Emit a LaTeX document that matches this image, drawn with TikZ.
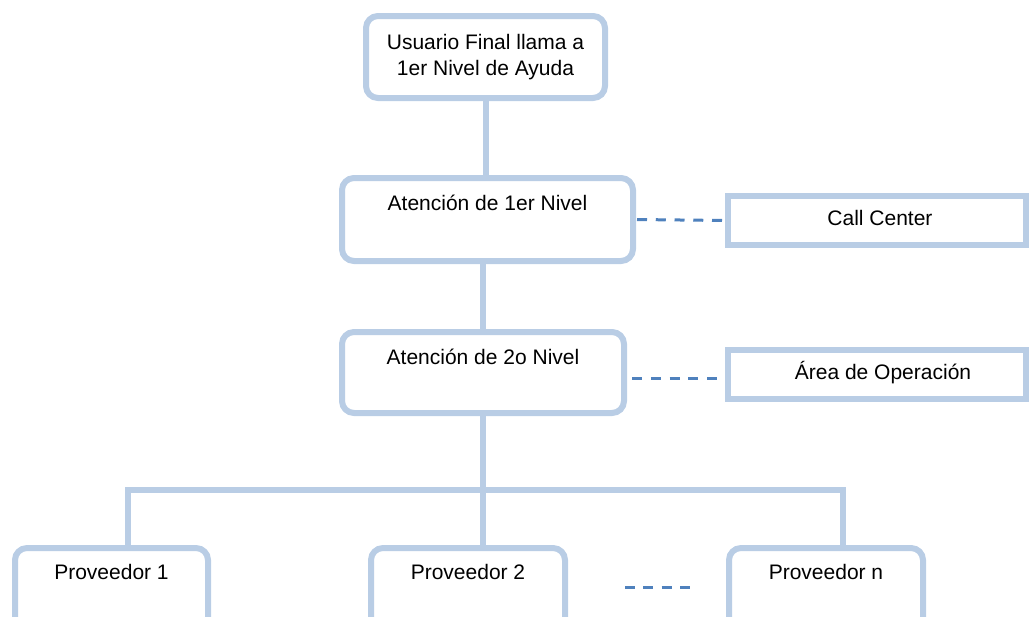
\documentclass[tikz,border=0pt]{standalone}
\usepackage{fontspec}
\setmainfont{Liberation Sans}
\definecolor{boxblue}{HTML}{B9CDE5}
\definecolor{dashblue}{HTML}{4F81BD}
\begin{document}
\begin{tikzpicture}[x=1pt,y=-1pt,
  txt/.style={font=\fontsize{21}{26}\selectfont, text=black},
  roundbox/.style={draw=boxblue, line width=6pt, rounded corners=12pt, fill=white, inner sep=0pt, txt},
  sidebox/.style={draw=boxblue, line width=6pt, fill=white, inner sep=0pt, txt},
  lbl/.style={txt, inner sep=0pt},
  conn/.style={draw=boxblue, line width=6pt},
  dashline/.style={draw=dashblue, line width=3pt, dash pattern=on 10pt off 8.75pt},
  shortdash/.style={draw=dashblue, line width=3pt, dash pattern=on 10pt off 8.33pt}]
\useasboundingbox (0,0) rectangle (1030,616);
\clip (0,0) rectangle (1030,616);

% main chain
\node[roundbox, minimum width=239pt, minimum height=82pt, align=center] (user) at (485.5,57)
  {Usuario Final llama a\\1er Nivel de Ayuda};
\node[roundbox, minimum width=291pt, minimum height=83pt] (lvl1) at (487.5,219.5) {};
\node[lbl] (lvl1t) at (487.5,203) {Atención de 1er Nivel};
\node[roundbox, minimum width=282pt, minimum height=81pt] (lvl2) at (483,372.5) {};
\node[lbl] (lvl2t) at (483,357) {Atención de 2o Nivel};

% side boxes
\node[sidebox, minimum width=298pt, minimum height=49pt] (call) at (877,220.5) {};
\node[lbl] (callt) at (880,218) {Call Center};
\node[sidebox, minimum width=298pt, minimum height=49pt] (area) at (877,374.5) {};
\node[lbl] (areat) at (883,373) {Área de Operación};

% providers
\node[roundbox, minimum width=193pt, minimum height=92pt] (prov1) at (111.5,594) {};
\node[lbl] (prov1t) at (111.5,572) {Proveedor 1};
\node[roundbox, minimum width=194pt, minimum height=92pt] (prov2) at (468,594) {};
\node[lbl] (prov2t) at (468,572) {Proveedor 2};
\node[roundbox, minimum width=194pt, minimum height=92pt] (provn) at (826,594) {};
\node[lbl] (provnt) at (826,572) {Proveedor n};

% solid connectors
\draw[conn] (user.south) -- (user.south |- lvl1.north);
\draw[conn] (lvl2.north) -- (lvl2.north |- lvl1.south);
\coordinate (busl) at (128,490);
\coordinate (busr) at (843,490);
\draw[conn] (lvl2.south) -- (lvl2.south |- prov2.north);
\draw[conn] (busl |- prov1.north) -- (busl) -- (busr) -- (busr |- provn.north);

% dashed links
\draw[dashline, shorten <=1pt, shorten >=3pt] (lvl1.east) -- (call.west);
\draw[dashline, shorten <=5pt, shorten >=8pt] ([yshift=-5.5pt]lvl2.east) -- ([yshift=-3.5pt]area.west);
\draw[shortdash, shorten <=57pt, shorten >=36pt] ([yshift=7pt]prov2.east) -- ([yshift=7pt]provn.west);
\end{tikzpicture}
\end{document}
